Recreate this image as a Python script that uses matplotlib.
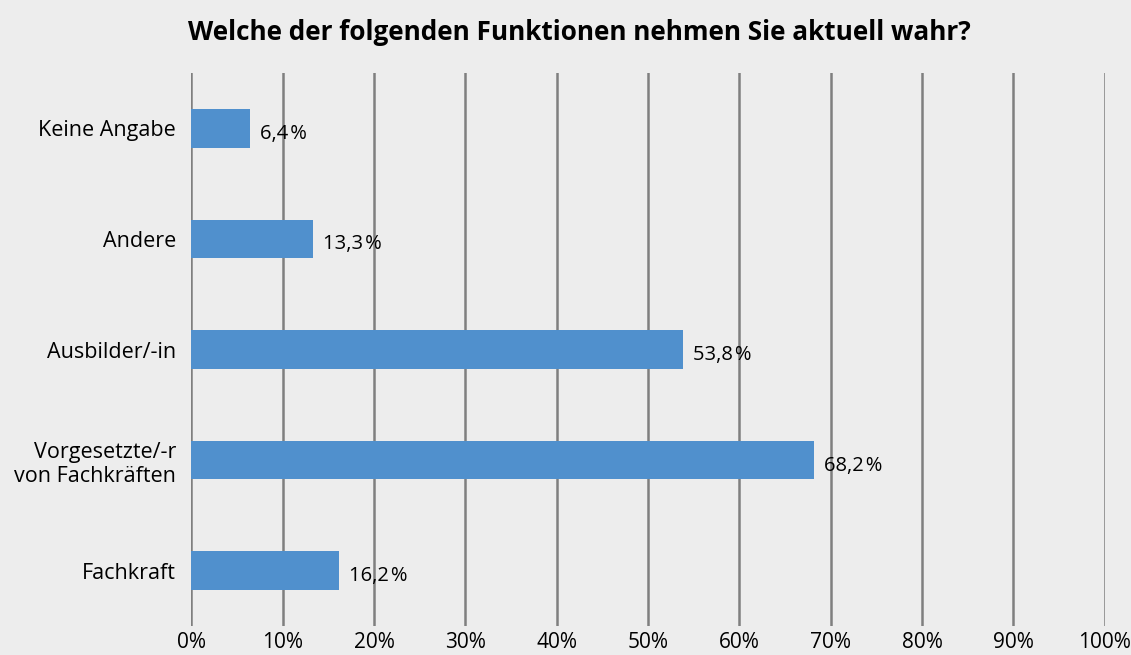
import matplotlib.pyplot as plt
from matplotlib.ticker import FuncFormatter

plt.rcParams['font.family'] = ['Open Sans', 'DejaVu Sans']

# Data (bottom to top)
categories = ['Fachkraft', 'Vorgesetzte/-r\nvon Fachkräften', 'Ausbilder/-in', 'Andere', 'Keine Angabe']
values = [16.2, 68.2, 53.8, 13.3, 6.4]
x_ticks = [0, 10, 20, 30, 40, 50, 60, 70, 80, 90, 100]

bg = '#ededed'
fig = plt.figure(figsize=(11.31, 6.55), dpi=100, facecolor=bg)
ax = fig.add_axes([0.1693, 0.0443, 0.8075, 0.8442], facecolor=bg)

y = range(len(categories))
ax.barh(y, values, height=0.35, color='#5090cd', zorder=3)

for yi, v in zip(y, values):
    ax.annotate(f'{v:.1f}'.replace('.', ',') + '\u200a%', (v, yi), xytext=(7, -4),
                textcoords='offset points', ha='left', va='center', fontsize=14.5, zorder=4)

ax.set_xlim(0, 100)
ax.set_ylim(-0.5, len(categories) - 0.5)
ax.set_xticks(x_ticks)
ax.xaxis.set_major_formatter(FuncFormatter(lambda v, p: f'{v:.0f}%'))
ax.set_yticks(list(y))
ax.set_yticklabels(categories, fontsize=15.5)
ax.tick_params(axis='x', length=0, pad=4, labelsize=15)
ax.tick_params(axis='y', length=0, pad=11)
for lbl in ax.get_yticklabels():
    lbl.set_multialignment('right')

ax.grid(axis='x', color='#7f7f7f', linewidth=1.8, zorder=1)
for s in ax.spines.values():
    s.set_visible(False)

fig.text(0.512, 0.951, 'Welche der folgenden Funktionen nehmen Sie aktuell wahr?',
         ha='center', va='center', fontsize=18.8, fontweight='bold')

fig.savefig('out.png', dpi=100, facecolor=bg)
